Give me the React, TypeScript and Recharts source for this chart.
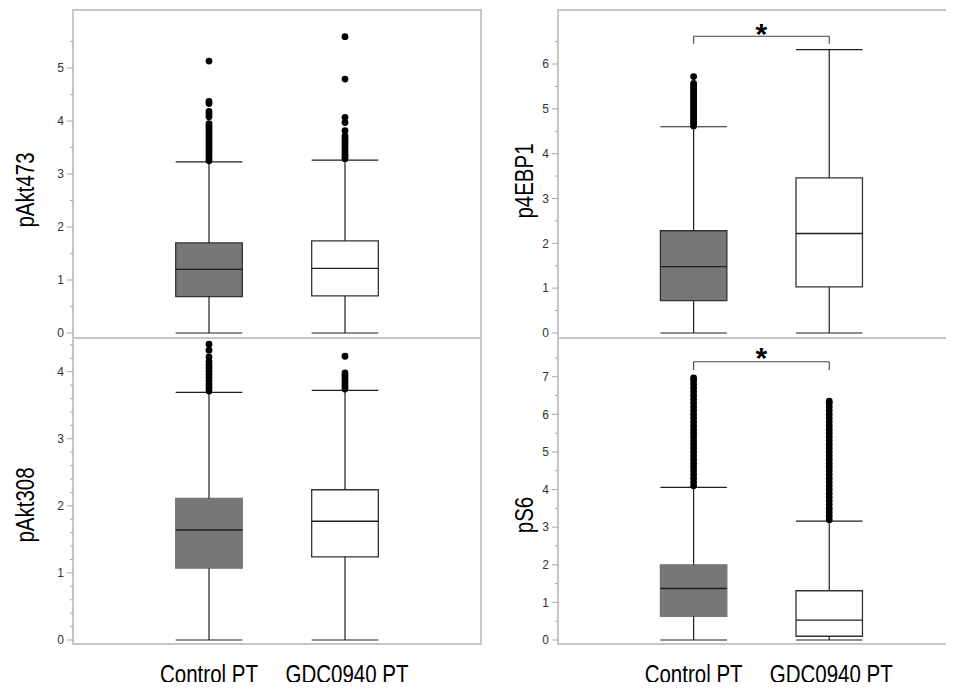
import { ComposedChart, XAxis, YAxis, ReferenceArea, ReferenceLine, Scatter } from 'recharts'

const groups = ['Control PT', 'GDC0940 PT']

// each row: [lower whisker, Q1, median, Q3, upper whisker]
const pAkt473Box = [
  [0, 0.685, 1.2, 1.7, 3.23],
  [0, 0.7, 1.22, 1.74, 3.26],
]
const pAkt473Outliers = [
  [3.25, 3.3, 3.35, 3.4, 3.45, 3.5, 3.55, 3.6, 3.65, 3.7, 3.75, 3.8, 3.85, 3.9, 3.95, 4.08, 4.13, 4.18, 4.33, 4.37, 5.13],
  [3.29, 3.33, 3.37, 3.42, 3.47, 3.52, 3.57, 3.62, 3.67, 3.72, 3.82, 3.97, 4.07, 4.79, 5.59],
]

const p4EBP1Box = [
  [0, 0.72, 1.48, 2.28, 4.6],
  [0, 1.03, 2.22, 3.46, 6.32],
]
const p4EBP1Outliers = [
  [4.62, 4.67, 4.72, 4.77, 4.82, 4.87, 4.92, 4.97, 5.02, 5.07, 5.12, 5.17, 5.22, 5.27, 5.32, 5.37, 5.42, 5.47, 5.52, 5.57, 5.72],
  [],
]

const pAkt308Box = [
  [0, 1.07, 1.64, 2.11, 3.69],
  [0, 1.24, 1.77, 2.24, 3.72],
]
const pAkt308Outliers = [
  [3.71, 3.76, 3.81, 3.86, 3.91, 3.96, 4.01, 4.06, 4.1, 4.15, 4.22, 4.32, 4.41],
  [3.74, 3.78, 3.82, 3.86, 3.9, 3.94, 3.98, 4.23],
]

const pS6Box = [
  [0, 0.63, 1.37, 2.0, 4.06],
  [0, 0.1, 0.53, 1.31, 3.16],
]
const pS6Outliers = [
  [4.1, 4.2, 4.3, 4.4, 4.5, 4.6, 4.7, 4.8, 4.9, 5.0, 5.1, 5.2, 5.3, 5.4, 5.5, 5.6, 5.7, 5.8, 5.9, 6.0, 6.1, 6.2, 6.3, 6.4, 6.5, 6.6, 6.7, 6.8, 6.9, 6.97],
  [3.2, 3.3, 3.4, 3.5, 3.6, 3.7, 3.8, 3.9, 4.0, 4.1, 4.2, 4.3, 4.4, 4.5, 4.6, 4.7, 4.8, 4.9, 5.0, 5.1, 5.2, 5.3, 5.4, 5.5, 5.6, 5.7, 5.8, 5.9, 6.0, 6.1, 6.2, 6.3, 6.35],
]

// significance brackets: [leg end, bar, star]
const p4EBP1Bracket = [6.45, 6.62, 6.83]
const pS6Bracket = [7.18, 7.4, 7.69]

const ticksHalf6 = [0, 0.5, 1, 1.5, 2, 2.5, 3, 3.5, 4, 4.5, 5, 5.5]
const ticksHalf7 = [0, 0.5, 1, 1.5, 2, 2.5, 3, 3.5, 4, 4.5, 5, 5.5, 6, 6.5]
const ticksFifth = [0, 0.2, 0.4, 0.6, 0.8, 1, 1.2, 1.4, 1.6, 1.8, 2, 2.2, 2.4, 2.6, 2.8, 3, 3.2, 3.4, 3.6, 3.8, 4, 4.2, 4.4]
const ticksHalf8 = [0, 0.5, 1, 1.5, 2, 2.5, 3, 3.5, 4, 4.5, 5, 5.5, 6, 6.5, 7, 7.5]

// no condensed face installed, so Liberation Sans squeezed horizontally
const plain = "'Liberation Sans', Arial, sans-serif"
const squeeze = 0.82
const frameColor = '#c6c6c6'
const boxGray = '#777777'
const ink = '#1e1e1e'
const halfWidth = 0.245

const YTick = (props: any) => {
  const { x, y, payload } = props
  const major = Number.isInteger(payload.value)
  return (
    <g>
      <line x1={x - (major ? 6 : 3)} x2={x} y1={y} y2={y} stroke="#a8a8a8" strokeWidth={1} />
      {major && (
        <text x={x - 9} y={y} dy={4.3} textAnchor="end" fontSize={12} fontFamily={plain} fill="#333">
          {payload.value}
        </text>
      )}
    </g>
  )
}

const XTick = (props: any) => {
  const { x, y, payload } = props
  const tx = x + (payload.value === 2 ? 2 : 0)
  return (
    <text
      transform={`translate(${tx} ${y + 39}) scale(${squeeze} 1)`}
      textAnchor="middle"
      fontSize={25}
      fontFamily={plain}
      fill="#000"
    >
      {groups[payload.value - 1]}
    </text>
  )
}

type PanelProps = {
  name: string
  box: number[][]
  outliers: number[][]
  yDomain: [number, number]
  yTicks: number[]
  xMax: number
  left: number
  top: number
  width: number
  height: number
  margin: { top: number; right: number; bottom: number; left: number }
  axisWidth: number
  labelAt: [number, number]
  showX: boolean
  controlEdge: string
  bracket?: number[]
}

const Panel = (p: PanelProps) => {
  const label = () => (
    <text
      transform={`translate(${p.labelAt[0]} ${p.labelAt[1]}) rotate(-90) scale(${squeeze} 1)`}
      textAnchor="middle"
      fontSize={25}
      fontFamily={plain}
      fill="#000"
    >
      {p.name}
    </text>
  )

  return (
    <div style={{ position: 'absolute', left: p.left, top: p.top }}>
      <ComposedChart width={p.width} height={p.height} margin={p.margin}>
        <XAxis
          type="number"
          dataKey="x"
          domain={[0, p.xMax]}
          allowDataOverflow
          hide={!p.showX}
          ticks={[1, 2]}
          tick={<XTick />}
          axisLine={false}
          tickLine={false}
          tickSize={0}
          tickMargin={0}
          height={46}
          interval={0}
        />
        <YAxis
          type="number"
          dataKey="y"
          domain={p.yDomain}
          allowDataOverflow
          ticks={p.yTicks}
          tick={<YTick />}
          axisLine={false}
          tickLine={false}
          tickSize={0}
          tickMargin={0}
          width={p.axisWidth}
          interval={0}
          label={label}
        />
        <ReferenceArea
          x1={0}
          x2={3}
          y1={p.yDomain[0]}
          y2={p.yDomain[1]}
          fill="none"
          stroke={frameColor}
          strokeWidth={2}
          ifOverflow="visible"
        />
        {p.box.map((b, i) => {
          const cx = i + 1
          const [lo, q1, med, q3, hi] = b
          return [
            <ReferenceLine key={`wu${i}`} segment={[{ x: cx, y: q3 }, { x: cx, y: hi }]} stroke={ink} strokeWidth={1.2} />,
            <ReferenceLine key={`wl${i}`} segment={[{ x: cx, y: lo }, { x: cx, y: q1 }]} stroke={ink} strokeWidth={1.2} />,
            <ReferenceLine key={`cu${i}`} segment={[{ x: cx - halfWidth, y: hi }, { x: cx + halfWidth, y: hi }]} stroke={ink} strokeWidth={1.2} />,
            <ReferenceLine key={`cl${i}`} segment={[{ x: cx - halfWidth, y: lo }, { x: cx + halfWidth, y: lo }]} stroke={ink} strokeWidth={1.2} />,
            <ReferenceArea
              key={`b${i}`}
              x1={cx - halfWidth}
              x2={cx + halfWidth}
              y1={q1}
              y2={q3}
              fill={i === 0 ? boxGray : '#fff'}
              fillOpacity={1}
              stroke={i === 0 ? p.controlEdge : '#333'}
              strokeWidth={1.3}
            />,
            <ReferenceLine key={`m${i}`} segment={[{ x: cx - halfWidth, y: med }, { x: cx + halfWidth, y: med }]} stroke={ink} strokeWidth={1.4} />,
          ]
        })}
        {p.outliers.map((o, i) => (
          <Scatter
            key={`o${i}`}
            data={o.map((v) => ({ x: i + 1, y: v }))}
            isAnimationActive={false}
            shape={(s: any) => <circle cx={s.cx} cy={s.cy} r={3.4} fill="#000" />}
          />
        ))}
        {p.bracket && [
          <ReferenceLine key="br" segment={[{ x: 1, y: p.bracket[1] }, { x: 2, y: p.bracket[1] }]} stroke="#444" strokeWidth={1.1} />,
          <ReferenceLine key="bl" segment={[{ x: 1, y: p.bracket[0] }, { x: 1, y: p.bracket[1] }]} stroke="#444" strokeWidth={1.1} />,
          <ReferenceLine key="bt" segment={[{ x: 2, y: p.bracket[0] }, { x: 2, y: p.bracket[1] }]} stroke="#444" strokeWidth={1.1} />,
          <Scatter
            key="star"
            data={[{ x: 1.5, y: p.bracket[2] }]}
            isAnimationActive={false}
            shape={(s: any) => (
              <text x={s.cx} y={s.cy} dy={17} textAnchor="middle" fontSize={30} fontWeight="bold" fontFamily={plain} fill="#000">
                *
              </text>
            )}
          />,
        ]}
      </ComposedChart>
    </div>
  )
}

export default function App() {
  return (
    <div style={{ position: 'relative', width: 954, height: 690, margin: -8, overflow: 'hidden', background: '#fff' }}>
      <Panel
        name="pAkt473"
        box={pAkt473Box}
        outliers={pAkt473Outliers}
        yDomain={[-0.094, 6.094]}
        yTicks={ticksHalf6}
        xMax={3}
        left={0}
        top={0}
        width={490}
        height={345}
        margin={{ top: 10, right: 9, bottom: 7, left: 0 }}
        axisWidth={73}
        labelAt={[34, 190]}
        showX={false}
        controlEdge="#333"
      />
      <Panel
        name="p4EBP1"
        box={p4EBP1Box}
        outliers={p4EBP1Outliers}
        yDomain={[-0.112, 7.205]}
        yTicks={ticksHalf7}
        xMax={2.92}
        left={480}
        top={0}
        width={474}
        height={345}
        margin={{ top: 10, right: 0, bottom: 7, left: 0 }}
        axisWidth={78}
        labelAt={[53, 181]}
        showX={false}
        controlEdge="#333"
        bracket={p4EBP1Bracket}
      />
      <Panel
        name="pAkt308"
        box={pAkt308Box}
        outliers={pAkt308Outliers}
        yDomain={[-0.06, 4.502]}
        yTicks={ticksFifth}
        xMax={3}
        left={0}
        top={330}
        width={490}
        height={360}
        margin={{ top: 8, right: 9, bottom: 0, left: 0 }}
        axisWidth={73}
        labelAt={[34, 175]}
        showX={true}
        controlEdge={boxGray}
      />
      <Panel
        name="pS6"
        box={pS6Box}
        outliers={pS6Outliers}
        yDomain={[-0.106, 8.03]}
        yTicks={ticksHalf8}
        xMax={2.92}
        left={480}
        top={330}
        width={474}
        height={360}
        margin={{ top: 8, right: 0, bottom: 0, left: 0 }}
        axisWidth={78}
        labelAt={[53, 185]}
        showX={true}
        controlEdge={boxGray}
        bracket={pS6Bracket}
      />
    </div>
  )
}
